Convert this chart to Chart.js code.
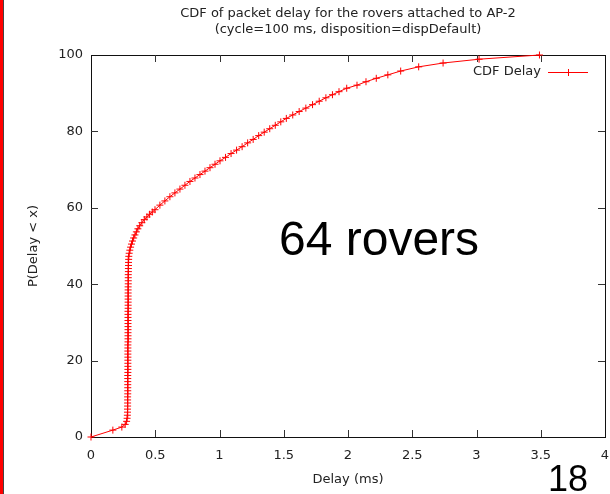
<!DOCTYPE html>
<html>
<head>
<meta charset="utf-8">
<script src="https://cdn.jsdelivr.net/npm/chart.js@4"></script>
<style>
  html, body { margin: 0; padding: 0; background: #fff; }
  #wrap { position: relative; width: 610px; height: 494px; overflow: hidden; background: #fff; }
  #c { position: absolute; left: 0; top: 0; }
  #edge { position: absolute; left: 0; top: 0; width: 3px; height: 494px; background: #ff0000; }
  #edgeLine { position: absolute; left: 3px; top: 0; width: 1px; height: 494px; background: #444; }
  .note { position: absolute; font-family: "Liberation Sans", Arial, sans-serif; color: #000; white-space: nowrap; line-height: 1; }
</style>
</head>
<body>
<div id="wrap">
  <canvas id="c" width="610" height="494"></canvas>
  <div id="edge"></div>
  <div id="edgeLine"></div>
  <div class="note" style="left:279px; top:215px; font-size:48px;">64 rovers</div>
  <div class="note" style="left:548px; top:461px; font-size:36px;">18</div>
</div>
<script>
// CDF of packet delay, AP-2 rovers
const titleLines = [
  'CDF of packet delay for the rovers attached to AP-2',
  '(cycle=100 ms, disposition=dispDefault)'
];
const seriesName = 'CDF Delay';
const xLabel = 'Delay (ms)';
const yLabel = 'P(Delay < x)';
const xTickValues = [0, 0.5, 1, 1.5, 2, 2.5, 3, 3.5, 4];
const xTickLabels = ['0', '0.5', '1', '1.5', '2', '2.5', '3', '3.5', '4'];
const yTickValues = [0, 20, 40, 60, 80, 100];
const yTickLabels = ['0', '20', '40', '60', '80', '100'];

// delay (ms)
const delayMs = [
  0, 0.17, 0.24, 0.266, 0.277,
  0.281, 0.283, 0.284, 0.284, 0.285, 0.285, 0.285, 0.285, 0.286, 0.286,
  0.286, 0.286, 0.286, 0.286, 0.286, 0.287, 0.287, 0.287, 0.287, 0.287,
  0.287, 0.287, 0.287, 0.287, 0.287, 0.288, 0.288, 0.288, 0.288, 0.288,
  0.288, 0.288, 0.288, 0.288, 0.288, 0.288, 0.289, 0.289, 0.289, 0.289,
  0.289, 0.289, 0.289, 0.289, 0.290, 0.290, 0.290, 0.290, 0.291, 0.291,
  0.292, 0.292, 0.293, 0.294,
  0.297, 0.302, 0.308, 0.315, 0.323, 0.332, 0.342, 0.353, 0.365, 0.379,
  0.396, 0.415, 0.435, 0.456, 0.477, 0.498,
  0.536, 0.575, 0.614, 0.653, 0.692, 0.731, 0.770, 0.809, 0.848, 0.887,
  0.926, 0.965, 1.004,
  1.047, 1.090, 1.133, 1.176, 1.219, 1.262, 1.305, 1.348, 1.391, 1.434,
  1.477, 1.520,
  1.570, 1.620, 1.672, 1.724, 1.776, 1.828, 1.879, 1.930,
  1.99, 2.07, 2.14, 2.22, 2.31, 2.41, 2.55, 2.74, 3.02, 3.49
];
// cumulative share of packets (%)
const cdfPercent = [
  0, 1.8, 2.6, 3.3, 4.1,
  4.9, 5.7, 6.5, 7.3, 8.1, 8.9, 9.7, 10.5, 11.3, 12.1,
  12.9, 13.7, 14.5, 15.3, 16.1, 16.9, 17.7, 18.5, 19.3, 20.1,
  20.9, 21.7, 22.5, 23.3, 24.1, 24.9, 25.7, 26.5, 27.3, 28.1,
  28.9, 29.7, 30.5, 31.3, 32.1, 32.9, 33.7, 34.5, 35.3, 36.1,
  36.9, 37.7, 38.5, 39.3, 40.1, 40.9, 41.7, 42.5, 43.3, 44.1,
  44.9, 45.7, 46.5, 47.3,
  48.1, 48.9, 49.7, 50.5, 51.3, 52.1, 52.9, 53.7, 54.5, 55.3,
  56.1, 56.9, 57.6, 58.3, 58.9, 59.5,
  60.7, 61.8, 62.9, 63.9, 64.9, 65.9, 66.9, 67.8, 68.7, 69.6,
  70.5, 71.4, 72.3,
  73.2, 74.2, 75.1, 76.0, 77.0, 77.9, 78.9, 79.8, 80.7, 81.6,
  82.5, 83.4,
  84.3, 85.2, 86.1, 87.0, 87.9, 88.8, 89.6, 90.4,
  91.3, 92.1, 93.0, 93.9, 94.8, 95.8, 96.9, 97.9, 98.9, 100
];

const FONT = 'DejaVu Sans';
const TEXT = '#222';
const RED = '#ff0000';

const points = delayMs.map((d, i) => ({ x: d, y: cdfPercent[i] }));

function drawCross(ctx, x, y, r) {
  ctx.beginPath();
  ctx.moveTo(x - r, y); ctx.lineTo(x + r, y);
  ctx.moveTo(x, y - r); ctx.lineTo(x, y + r);
  ctx.stroke();
}

// box frame with inward ticks on all four sides, title and key
const frame = {
  id: 'frame',
  beforeDatasetsDraw(chart) {
    const { ctx, chartArea: a, scales: { x, y } } = chart;
    const L = 7;
    ctx.save();
    ctx.strokeStyle = '#111';
    ctx.lineWidth = 1;
    ctx.strokeRect(Math.round(a.left) + 0.5, Math.round(a.top) + 0.5,
      Math.round(a.right - a.left), Math.round(a.bottom - a.top));
    ctx.strokeStyle = '#333';
    ctx.beginPath();
    xTickValues.slice(1, -1).forEach(v => {
      const px = Math.round(x.getPixelForValue(v)) + 0.5;
      ctx.moveTo(px, a.bottom); ctx.lineTo(px, a.bottom - L);
      ctx.moveTo(px, a.top); ctx.lineTo(px, a.top + L);
    });
    yTickValues.slice(1, -1).forEach(v => {
      const py = Math.round(y.getPixelForValue(v)) + 0.5;
      ctx.moveTo(a.left, py); ctx.lineTo(a.left + L, py);
      ctx.moveTo(a.right, py); ctx.lineTo(a.right - L, py);
    });
    ctx.stroke();
    ctx.restore();
  },
  afterDraw(chart) {
    const { ctx, chartArea: a } = chart;
    ctx.save();
    ctx.fillStyle = TEXT;
    ctx.font = '13px "' + FONT + '"';
    ctx.textAlign = 'center';
    ctx.textBaseline = 'middle';
    const cx = (a.left + a.right) / 2;
    ctx.fillText(titleLines[0], cx, 14);
    ctx.fillText(titleLines[1], cx, 30);
    // key
    const ky = 72;
    ctx.textAlign = 'right';
    ctx.fillText(seriesName, 541, ky);
    ctx.strokeStyle = RED;
    ctx.lineWidth = 1;
    ctx.beginPath();
    ctx.moveTo(548, ky + 0.5); ctx.lineTo(588, ky + 0.5);
    ctx.stroke();
    drawCross(ctx, 568.5, ky + 0.5, 3.5);
    ctx.restore();
  }
};

new Chart(document.getElementById('c'), {
  type: 'scatter',
  data: {
    datasets: [{
      label: seriesName,
      data: points,
      showLine: true,
      borderColor: RED,
      borderWidth: 1,
      tension: 0,
      pointStyle: 'cross',
      pointRadius: 3.5,
      pointBorderWidth: 1,
      pointBorderColor: RED,
      pointBackgroundColor: RED,
      clip: 4
    }]
  },
  options: {
    responsive: false,
    animation: false,
    events: [],
    layout: { padding: { top: 55, right: 5, left: 0, bottom: 0 } },
    plugins: { legend: { display: false }, tooltip: { enabled: false }, title: { display: false } },
    scales: {
      x: {
        type: 'linear', min: 0, max: 4,
        afterBuildTicks(s) { s.ticks = xTickValues.map(v => ({ value: v })); },
        ticks: {
          color: TEXT, font: { family: FONT, size: 13 }, padding: 11, maxRotation: 0, autoSkip: false,
          callback: (v) => xTickLabels[xTickValues.indexOf(v)]
        },
        grid: { display: false, drawTicks: false },
        border: { display: false },
        title: { display: true, text: xLabel, color: TEXT, font: { family: FONT, size: 13 }, padding: { top: 0, bottom: 7 } },
        afterFit(s) { s.height = 57; s.paddingLeft = 0; s.paddingRight = 0; }
      },
      y: {
        type: 'linear', min: 0, max: 100,
        afterBuildTicks(s) { s.ticks = yTickValues.map(v => ({ value: v })); },
        ticks: {
          color: TEXT, font: { family: FONT, size: 13 }, padding: 8, autoSkip: false,
          callback: (v) => yTickLabels[yTickValues.indexOf(v)]
        },
        grid: { display: false, drawTicks: false },
        border: { display: false },
        title: { display: true, text: yLabel, color: TEXT, font: { family: FONT, size: 13 }, padding: { top: 26, bottom: 0 } },
        afterFit(s) { s.width = 91; s.paddingTop = 0; s.paddingBottom = 0; }
      }
    }
  },
  plugins: [frame]
});
</script>
</body>
</html>
